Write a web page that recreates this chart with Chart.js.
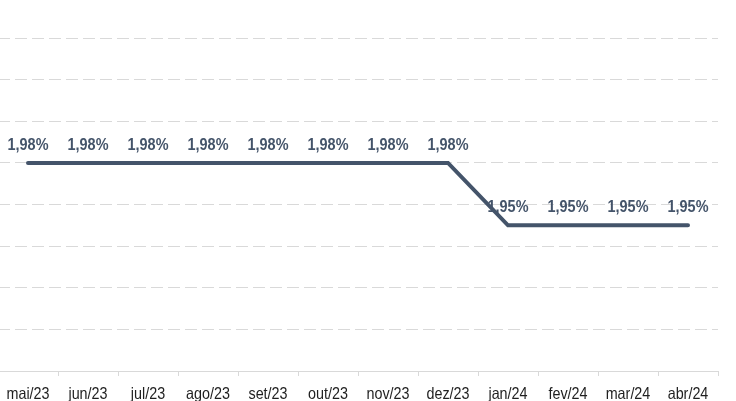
<!DOCTYPE html>
<html>
<head>
<meta charset="utf-8">
<script src="https://cdn.jsdelivr.net/npm/chart.js@4.4.1/dist/chart.umd.min.js"></script>
<style>
  html, body { margin: 0; padding: 0; background: #fff; overflow: hidden; }
  .wrap { position: absolute; left: -2px; top: 0; width: 738px; height: 401px; }
</style>
</head>
<body>
<div class="wrap"><canvas id="chart"></canvas></div>
<script>
const months = ["mai/23", "jun/23", "jul/23", "ago/23", "set/23", "out/23", "nov/23", "dez/23", "jan/24", "fev/24", "mar/24", "abr/24"];
const rates = [1.98, 1.98, 1.98, 1.98, 1.98, 1.98, 1.98, 1.98, 1.95, 1.95, 1.95, 1.95];
const yMin = 1.88, yMax = 2.04, yStep = 0.02;

const lineColor = "#44546a";
const gridColor = "#d9d9d9";
const sans = "'Liberation Sans', Arial, sans-serif";

// squeezed text, the source uses a narrow face we don't have
function narrowText(ctx, txt, x, y, sx) {
  ctx.save();
  ctx.translate(x, y);
  ctx.scale(sx, 1);
  ctx.fillText(txt, 0, 0);
  ctx.restore();
}

// value labels above points + month labels under the axis
const textLayer = {
  id: "textLayer",
  afterDatasetsDraw(chart) {
    const ctx = chart.ctx;
    const meta = chart.getDatasetMeta(0);
    const xs = chart.scales.x;
    ctx.save();
    ctx.textAlign = "center";
    ctx.textBaseline = "alphabetic";

    ctx.font = "bold 16.5px " + sans;
    ctx.fillStyle = lineColor;
    meta.data.forEach((pt, i) => {
      const txt = rates[i].toFixed(2).replace(".", ",") + "%";
      narrowText(ctx, txt, pt.x, pt.y - 13, 0.875);
    });

    ctx.font = "16.5px " + sans;
    ctx.fillStyle = "#1f1f1f";
    months.forEach((m, i) => {
      narrowText(ctx, m, xs.getPixelForValue(i), xs.top + 27.5, 0.87);
    });
    ctx.restore();
  }
};

new Chart(document.getElementById("chart"), {
  type: "line",
  data: {
    labels: months,
    datasets: [{
      data: rates,
      borderColor: lineColor,
      borderWidth: 4,
      borderCapStyle: "round",
      borderJoinStyle: "miter",
      pointRadius: 0,
      tension: 0,
      fill: false
    }]
  },
  options: {
    responsive: true,
    maintainAspectRatio: false,
    animation: false,
    layout: { padding: { top: 38, right: 18, left: 0, bottom: 0 } },
    plugins: { legend: { display: false }, tooltip: { enabled: false } },
    scales: {
      x: {
        offset: true,
        grid: { offset: true, drawOnChartArea: false, tickLength: 5, color: gridColor },
        border: { color: gridColor },
        ticks: { display: false, autoSkip: false },
        afterFit(scale) { scale.height = 30; }
      },
      y: {
        min: yMin,
        max: yMax,
        ticks: { display: false, stepSize: yStep },
        grid: { color: gridColor, drawTicks: false },
        border: { display: false, dash: [12, 5] }
      }
    }
  },
  plugins: [textLayer]
});
</script>
</body>
</html>
